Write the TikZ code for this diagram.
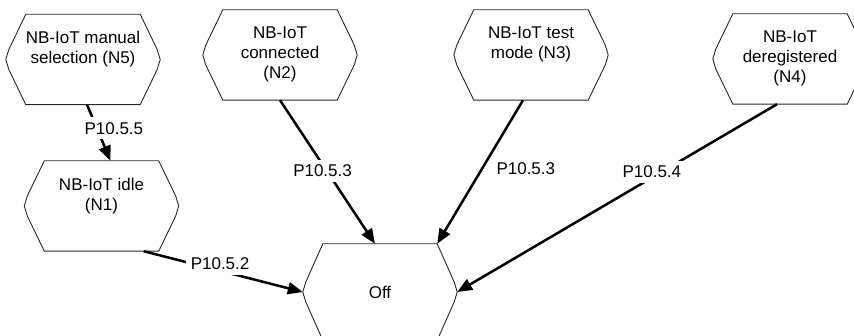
\documentclass[tikz,border=0pt]{standalone}
\usepackage{fontspec}
\setmainfont{Liberation Sans}
\usetikzlibrary{arrows.meta,calc}

\begin{document}
\begin{tikzpicture}[
  x=1pt, y=-1pt,
  font=\fontsize{17}{20}\selectfont,
  state/.style={rectangle, minimum width=114pt, minimum height=90pt, inner sep=0pt},
  statetext/.style={anchor=north, align=center, inner sep=0pt, yshift=-17pt},
  arrow/.style={-{Triangle[length=15pt,width=12pt]}, line width=2.5pt},
  lbl/.style={fill=white, inner xsep=5pt, inner ysep=5pt}
]
  \useasboundingbox (0,0) rectangle (854,336);

  \node[state, label={[statetext, name=n5t]north:NB-IoT manual\\selection (N5)}] (n5) at (83,59.5) {};
  \node[state, label={[statetext, name=n2t]north:NB-IoT\\connected\\(N2)}] (n2) at (280,55) {};
  \node[state, label={[statetext, name=n3t]north:NB-IoT test\\mode (N3)}] (n3) at (531,55) {};
  \node[state, label={[statetext, name=n4t]north:NB-IoT\\deregistered\\(N4)}] (n4) at (790,59) {};
  \node[state, label={[statetext, name=n1t]north:NB-IoT idle\\(N1)}] (n1) at (101.5,206) {};
  \node[state, minimum height=96pt] (off) at (380,292) {Off};

  \foreach \n in {n5,n2,n3,n4,n1,off}
    \draw[line width=0.9pt, black!85] (\n.north west) -- ([shift={(-17pt,10pt)}]\n.west)
      -- ([xshift=-20pt]\n.west) -- ([shift={(-17pt,-10pt)}]\n.west) -- (\n.south west)
      -- (\n.south east) -- ([shift={(17pt,-10pt)}]\n.east) -- ([xshift=20pt]\n.east)
      -- ([shift={(17pt,10pt)}]\n.east) -- (\n.north east) -- cycle;

  \draw[arrow] ([xshift=4pt]n5.south) -- node[lbl, pos=0.42, xshift=17pt] (l5) {P10.5.5} ([xshift=9pt]n1.north);
  \draw[arrow] ([xshift=-15pt]n1.south east) -- node[lbl, pos=0.48, yshift=7pt] (l1) {P10.5.2} ([xshift=-20pt]off.west);
  \draw[arrow] (n2.south) -- node[lbl, pos=0.49, xshift=-4pt] (l2) {P10.5.3} ([xshift=-5pt]off.north);
  \draw[arrow] ([xshift=-8pt]n3.south) -- node[lbl, pos=0.48, xshift=44pt] (l3) {P10.5.3} (off.north east);
  \draw[arrow] ([xshift=-13pt]n4.south) -- node[lbl, pos=0.36, xshift=-10pt] (l4) {P10.5.4} ([xshift=20pt]off.east);
\end{tikzpicture}
\end{document}
